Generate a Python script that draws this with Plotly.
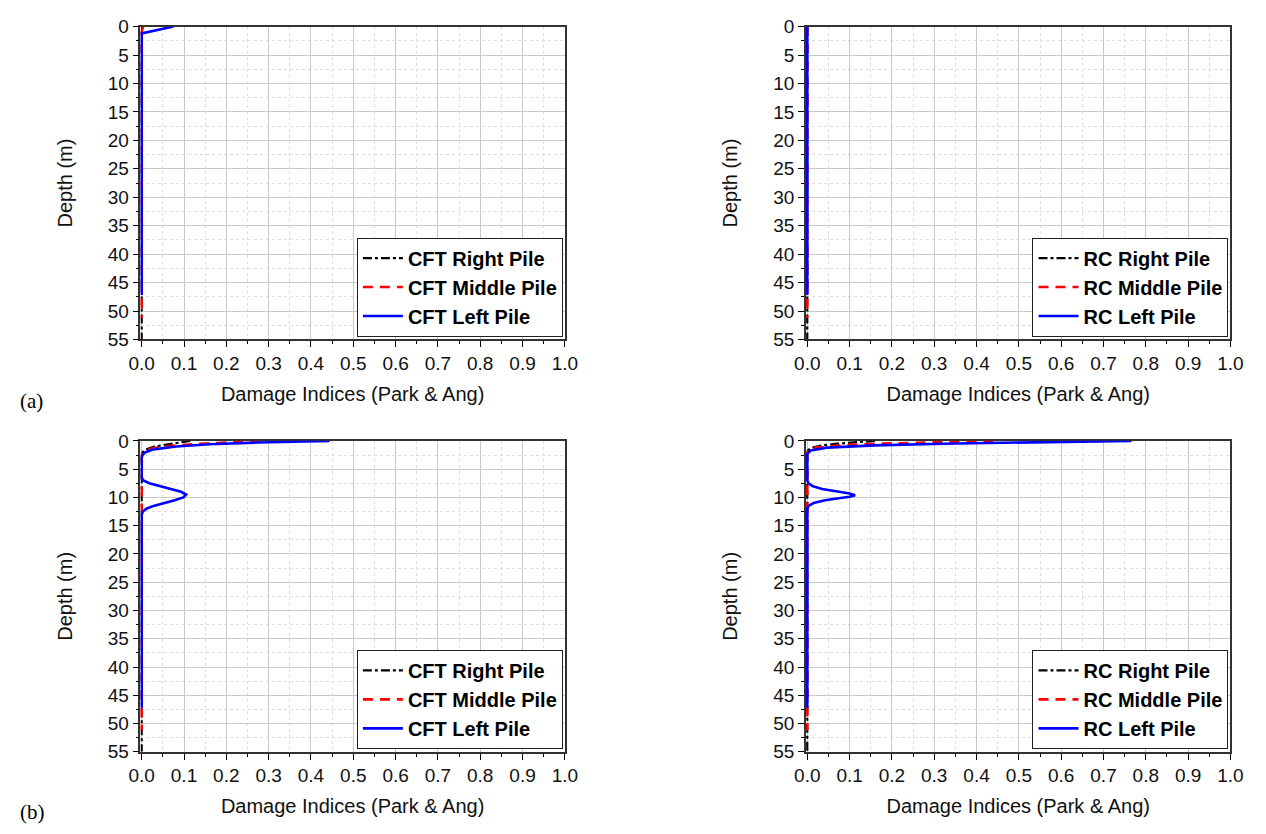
import plotly.graph_objects as go

# ---- Damage index profiles along the pile depth (Park & Ang) ----
# (a) CFT piles
cft_a_right_depth = [0.0, 1.0, 55.0]
cft_a_right_di = [0.001, 0.0, 0.0]
cft_a_middle_depth = [0.0, 1.0, 51.2]
cft_a_middle_di = [0.003, 0.0, 0.0]
cft_a_left_depth = [0.0, 1.2, 47.2]
cft_a_left_di = [0.075, 0.0, 0.0]

# (a) RC piles
rc_a_right_depth = [0.0, 55.0]
rc_a_right_di = [0.0, 0.0]
rc_a_middle_depth = [0.0, 51.2]
rc_a_middle_di = [0.0, 0.0]
rc_a_left_depth = [0.0, 47.2]
rc_a_left_di = [0.0, 0.0]

# (b) CFT piles
cft_b_right_depth = [0.0, 0.3, 0.6, 1.0, 1.5, 2.0, 2.5, 55.0]
cft_b_right_di = [0.115, 0.088, 0.058, 0.03, 0.01, 0.002, 0.0, 0.0]
cft_b_middle_depth = [0.0, 0.3, 0.6, 1.0, 1.5, 2.0, 2.5, 51.2]
cft_b_middle_di = [0.28, 0.2, 0.12, 0.05, 0.015, 0.003, 0.0, 0.0]
cft_b_left_depth = [0.0, 0.15, 0.3, 0.6, 1.0, 1.5, 2.0, 2.5, 3.0, 6.5, 7.0, 7.5,
                    8.0, 8.5, 9.0, 9.5, 10.0, 10.5, 11.0, 11.5, 12.0, 12.5, 13.0, 47.2]
cft_b_left_di = [0.444, 0.35, 0.275, 0.16, 0.082, 0.028, 0.009, 0.002, 0.0, 0.0, 0.004, 0.018,
                 0.042, 0.07, 0.093, 0.105, 0.098, 0.078, 0.052, 0.028, 0.011, 0.003, 0.0, 0.0]

# (b) RC piles
rc_b_right_depth = [0.0, 0.2, 0.5, 0.8, 1.2, 1.6, 2.0, 55.0]
rc_b_right_di = [0.16, 0.12, 0.07, 0.035, 0.01, 0.002, 0.0, 0.0]
rc_b_middle_depth = [0.0, 0.2, 0.5, 0.8, 1.2, 1.6, 2.0, 51.2]
rc_b_middle_di = [0.44, 0.3, 0.17, 0.08, 0.02, 0.003, 0.0, 0.0]
rc_b_left_depth = [0.0, 0.1, 0.25, 0.5, 0.8, 1.2, 1.7, 2.3, 7.0, 7.5, 8.0, 8.5, 9.0,
                   9.3, 9.6, 9.9, 10.2, 10.5, 11.0, 11.5, 12.0, 47.2]
rc_b_left_di = [0.766, 0.65, 0.47, 0.32, 0.16, 0.046, 0.008, 0.0, 0.0, 0.003, 0.012, 0.035, 0.075,
                0.1, 0.113, 0.1, 0.07, 0.042, 0.015, 0.003, 0.0, 0.0]

x_tick_vals = [0.0, 0.1, 0.2, 0.3, 0.4, 0.5, 0.6, 0.7, 0.8, 0.9, 1.0]
y_tick_vals = [0, 5, 10, 15, 20, 25, 30, 35, 40, 45, 50, 55]

x_title = "Damage Indices (Park & Ang)"
y_title = "Depth (m)"
panel_tags = ["(a)", "(b)"]

FONT = "Liberation Sans, Arial, sans-serif"
W, H = 1266, 834

# subplot frames in pixels: (left, right, top, bottom)
frames = [
    (131, 564, 17, 338),
    (810, 1243, 17, 338),
    (131, 564, 442, 761),
    (810, 1243, 442, 761),
]

panels = [
    ("CFT", (cft_a_right_depth, cft_a_right_di), (cft_a_middle_depth, cft_a_middle_di),
     (cft_a_left_depth, cft_a_left_di)),
    ("RC", (rc_a_right_depth, rc_a_right_di), (rc_a_middle_depth, rc_a_middle_di),
     (rc_a_left_depth, rc_a_left_di)),
    ("CFT", (cft_b_right_depth, cft_b_right_di), (cft_b_middle_depth, cft_b_middle_di),
     (cft_b_left_depth, cft_b_left_di)),
    ("RC", (rc_b_right_depth, rc_b_right_di), (rc_b_middle_depth, rc_b_middle_di),
     (rc_b_left_depth, rc_b_left_di)),
]

styles = [
    ("Right Pile", "#000000", "dashdot", 2.2),
    ("Middle Pile", "#ff0000", "10px,7px", 2.6),
    ("Left Pile", "#0000ff", "solid", 2.6),
]

fig = go.Figure()
layout = dict(
    width=W, height=H, autosize=False,
    margin=dict(l=0, r=0, t=0, b=0),
    paper_bgcolor="white", plot_bgcolor="white",
    font=dict(family=FONT, size=19, color="#111111"),
    annotations=[],
)

for i, (frame, panel) in enumerate(zip(frames, panels)):
    n = i + 1
    sfx = "" if n == 1 else str(n)
    l, r, t, b = frame
    xdom = [l / W, r / W]
    ydom = [1 - b / H, 1 - t / H]
    prefix = panel[0]
    leg = "legend" if n == 1 else f"legend{n}"

    for (label, color, dash, width), (depth, di) in zip(styles, panel[1:]):
        fig.add_trace(go.Scatter(
            x=di, y=depth, mode="lines",
            name=f"{prefix} {label}",
            line=dict(color=color, dash=dash, width=width),
            xaxis=f"x{sfx}", yaxis=f"y{sfx}",
            legend=leg,
        ))

    layout[f"xaxis{sfx}"] = dict(
        domain=xdom, anchor=f"y{sfx}", range=[-0.003, 1],
        tickvals=x_tick_vals, tickformat=".1f",
        ticks="outside", ticklen=6, tickwidth=1, tickcolor="#000",
        showline=True, linecolor="#333", linewidth=1.6, mirror=True,
        showgrid=True, gridcolor="#c9c9c9", gridwidth=1,
        minor=dict(dtick=0.05, tick0=0, ticks="outside", ticklen=3, tickcolor="#000",
                   showgrid=True, gridcolor="#dedede", griddash="dot"),
        zeroline=False, layer="below traces",
        tickfont=dict(size=19, family=FONT, color="#111"),
        title=dict(text=x_title, font=dict(size=20, family=FONT, color="#111"), standoff=14),
    )
    layout[f"yaxis{sfx}"] = dict(
        domain=ydom, anchor=f"x{sfx}", range=[55, 0],
        tickvals=y_tick_vals,
        ticks="outside", ticklen=6, tickwidth=1, tickcolor="#000",
        showline=True, linecolor="#333", linewidth=1.6, mirror=True,
        showgrid=True, gridcolor="#c9c9c9", gridwidth=1,
        minor=dict(dtick=2.5, ticks="outside", ticklen=3, tickcolor="#000",
                   showgrid=True, gridcolor="#dedede", griddash="dot"),
        zeroline=False, layer="below traces",
        tickfont=dict(size=19, family=FONT, color="#111"),
        title=dict(text=y_title, font=dict(size=20, family=FONT, color="#111"), standoff=30),
    )
    layout[leg] = dict(
        x=(r - 2) / W, y=1 - (b - 3) / H, xanchor="right", yanchor="bottom",
        xref="paper", yref="paper",
        bgcolor="white", bordercolor="#222", borderwidth=1,
        font=dict(size=20, family=FONT, color="#000", weight="bold"),
        tracegroupgap=0, itemwidth=40,
    )

for tag, ypix in zip(panel_tags, [401, 823]):
    layout["annotations"].append(dict(
        text=tag, x=6 / W, y=1 - ypix / H, xref="paper", yref="paper",
        xanchor="left", yanchor="middle", showarrow=False,
        font=dict(size=21, family="Liberation Serif, Times New Roman, serif", color="#000"),
    ))

fig.update_layout(**layout)
fig.write_html("out.html")
